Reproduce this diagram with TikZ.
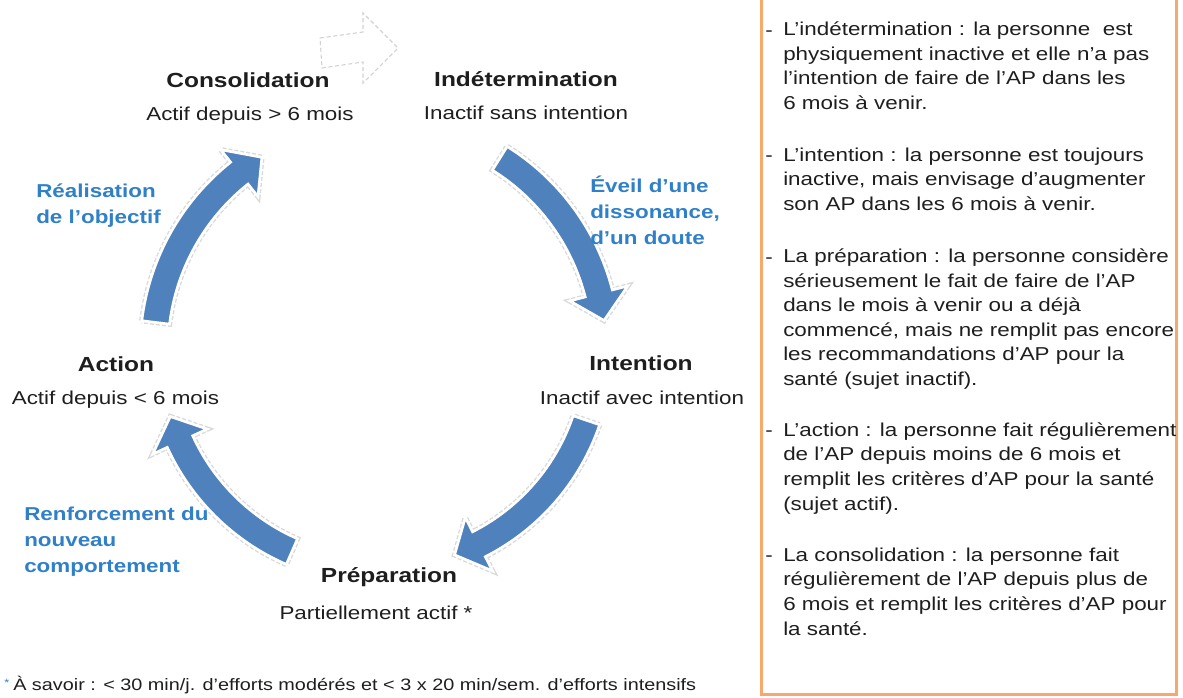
\documentclass[tikz,border=0pt]{standalone}
\usepackage{fontspec}
\setmainfont[FakeStretch=1.2]{Liberation Sans}
\usetikzlibrary{calc}
\definecolor{cycleblue}{HTML}{4F81BD}
\definecolor{triggerblue}{HTML}{2F7FC9}
\definecolor{inkgray}{HTML}{1E1E1E}
\definecolor{frameorange}{HTML}{F7A96C}
\newcommand{\cyclearrow}[4]{% #1 centre, #2 tail angle, #3 tip angle, #4 radius
  \pgfmathsetmacro{\cyhead}{#3-7}
  \pgfmathsetmacro{\cyout}{#4+14}\pgfmathsetmacro{\cyin}{#4-14}
  \pgfmathsetmacro{\cybout}{#4+30}\pgfmathsetmacro{\cybin}{#4-30}
  \filldraw[stagearrow] ($(#1)+(#2:\cyout)$) arc[start angle=#2, end angle=\cyhead, radius=\cyout]
    -- ($(#1)+(\cyhead:\cybout)$) -- ($(#1)+(#3:#4)$) -- ($(#1)+(\cyhead:\cybin)$)
    -- ($(#1)+(\cyhead:\cyin)$) arc[start angle=\cyhead, end angle=#2, radius=\cyin] -- cycle;
}
\tikzset{
  stagearrow/.style={fill=cycleblue, draw=white, line width=2pt,
    preaction={draw=black!15, line width=4pt, dash pattern=on 3pt off 1.5pt}},
  ghostarrow/.style={draw=black!18, line width=0.8pt, dash pattern=on 3pt off 2pt},
  stage/.style={font=\fontsize{15.3pt}{18pt}\selectfont\bfseries, text=inkgray, anchor=base, inner sep=0pt},
  substage/.style={font=\fontsize{14pt}{17pt}\selectfont, text=inkgray, anchor=base, inner sep=0pt},
  trigger/.style={font=\fontsize{14pt}{19.5pt}\selectfont\bfseries, text=triggerblue, align=left, anchor=base west, inner sep=0pt},
  boxtext/.style={font=\fontsize{14pt}{18.4pt}\selectfont, text=inkgray, align=left, anchor=base west, inner sep=0pt},
}

\begin{document}
\begin{tikzpicture}[x=0.75pt, y=-0.75pt]
  \useasboundingbox (0,0) rectangle (1183,697);

  % the cycle
  \coordinate (hub) at (380,350);
  \cyclearrow{hub}{-58}{-7.5}{226}
  \cyclearrow{hub}{18.8}{70}{218}
  \cyclearrow{hub}{113.6}{162.4}{220}
  \cyclearrow{hub}{187}{238.5}{226}
  \draw[ghostarrow] (320,38) -- (363,32) -- (363,13) -- (398,48) -- (363,83) -- (363,62) -- (322,68) -- cycle;

  \node[stage] (consol) at (248,87) {Consolidation};
  \node[substage] (consolsub) at (250,120) {Actif depuis > 6 mois};
  \node[stage] (indet) at (526,86) {Indétermination};
  \node[substage] (indetsub) at (526,119) {Inactif sans intention};
  \node[stage] (intent) at (641,370) {Intention};
  \node[substage] (intentsub) at (642,404) {Inactif avec intention};
  \node[stage] (prep) at (389,582) {Préparation};
  \node[substage] (prepsub) at (376,619) {Partiellement actif *};
  \node[stage] (action) at (116,371) {Action};
  \node[substage] (actionsub) at (115.5,404) {Actif depuis < 6 mois};

  % multi-line nodes sit on their last baseline
  \node[trigger] (realis) at (36,223) {Réalisation\\de l’objectif};
  \node[trigger] (eveil) at (590,244) {Éveil d’une\\dissonance,\\d’un doute};
  \node[trigger] (renfo) at (24,572) {Renforcement du\\nouveau\\comportement};

  \node[anchor=base west, inner sep=0pt, text=triggerblue, font=\fontsize{8pt}{9pt}\selectfont] (star) at (4,686) {*};
  \node[anchor=base west, inner sep=0pt, text=inkgray, font=\fontsize{12.4pt}{14pt}\selectfont] (note) at (13,690)
    {À savoir : < 30 min/j. d’efforts modérés et < 3 x 20 min/sem. d’efforts intensifs};

  % stage descriptions
  \draw[frameorange, line width=2.25pt] (761,-10) rectangle (1176,694);
  \foreach \yy [count=\i] in {36,161.5,263,436.5,561.5}
    \node[boxtext] (dash\i) at (765,\yy) {-};
  \node[boxtext] (descindet) at (783,109.5) {L’indétermination : la personne \ est\\physiquement inactive et elle n’a pas\\l’intention de faire de l’AP dans les\\6 mois à venir.};
  \node[boxtext] (descintent) at (783,210.5) {L’intention : la personne est toujours\\inactive, mais envisage d’augmenter\\son AP dans les 6 mois à venir.};
  \node[boxtext] (descprep) at (783,385.5) {La préparation : la personne considère\\sérieusement le fait de faire de l’AP\\dans le mois à venir ou a déjà\\commencé, mais ne remplit pas encore\\les recommandations d’AP pour la\\santé (sujet inactif).};
  \node[boxtext] (descaction) at (783,510) {L’action : la personne fait régulièrement\\de l’AP depuis moins de 6 mois et\\remplit les critères d’AP pour la santé\\(sujet actif).};
  \node[boxtext] (descconsol) at (783,635) {La consolidation : la personne fait\\régulièrement de l’AP depuis plus de\\6 mois et remplit les critères d’AP pour\\la santé.};
\end{tikzpicture}
\end{document}
